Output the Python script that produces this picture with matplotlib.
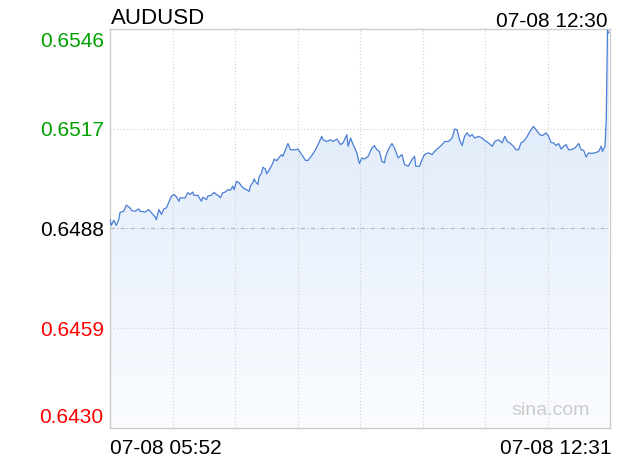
import numpy as np
import matplotlib.pyplot as plt
from matplotlib.colors import LinearSegmentedColormap

plt.rcParams['font.family'] = ['Liberation Sans', 'DejaVu Sans']

symbol = 'AUDUSD'
last_stamp = '07-08 12:30'
start_label = '07-08 05:52'
end_label = '07-08 12:31'
prev_close = 0.6488
y_ticks = [0.6430, 0.6459, 0.6488, 0.6517, 0.6546]
t_span = 399   # minuty od 05:52 do 12:31

# minuty od startu
minutes = [0, 1, 3, 5, 7, 8, 11, 13, 16, 17, 20, 23, 24, 28, 31, 33, 36, 37, 39, 41,
           43, 45, 49, 51, 53, 55, 56, 60, 62, 64, 66, 67, 70, 73, 74, 77, 78, 81, 83, 85,
           87, 88, 90, 92, 94, 96, 98, 99, 101, 103, 105, 107, 109, 111, 112, 114, 115, 116, 118, 119,
           121, 122, 124, 125, 128, 130, 131, 133, 135, 137, 138, 140, 142, 144, 148, 150, 153, 156, 158, 161,
           164, 166, 169, 170, 173, 176, 178, 181, 184, 186, 189, 190, 192, 194, 197, 199, 201, 203, 206, 209,
           211, 213, 215, 217, 219, 220, 222, 225, 227, 230, 233, 235, 238, 241, 243, 244, 247, 249, 251, 254,
           257, 259, 262, 265, 267, 270, 273, 275, 277, 279, 281, 283, 285, 287, 289, 291, 294, 297, 299, 302,
           305, 307, 310, 313, 315, 317, 319, 322, 324, 326, 328, 330, 333, 335, 338, 340, 343, 345, 348, 350,
           352, 354, 356, 358, 360, 362, 364, 366, 368, 371, 374, 376, 378, 380, 382, 384, 387, 390, 392, 393,
           395, 396, 397, 398]

prices = [0.64906, 0.64889, 0.64904, 0.64889, 0.64906, 0.64927, 0.64930, 0.64948, 0.64940, 0.64933,
          0.64930, 0.64937, 0.64930, 0.64928, 0.64935, 0.64926, 0.64914, 0.64906, 0.64935, 0.64921,
          0.64937, 0.64940, 0.64974, 0.64979, 0.64972, 0.64959, 0.64969, 0.64969, 0.64984, 0.64979,
          0.64986, 0.64976, 0.64977, 0.64959, 0.64971, 0.64964, 0.64974, 0.64977, 0.64985, 0.64979,
          0.64974, 0.64969, 0.64984, 0.64986, 0.64993, 0.64991, 0.65003, 0.64993, 0.65017, 0.65013,
          0.65003, 0.64996, 0.64993, 0.64988, 0.65003, 0.65014, 0.65024, 0.65017, 0.65008, 0.65030,
          0.65042, 0.65058, 0.65053, 0.65039, 0.65056, 0.65071, 0.65082, 0.65077, 0.65087, 0.65095,
          0.65090, 0.65109, 0.65127, 0.65109, 0.65109, 0.65111, 0.65095, 0.65078, 0.65078, 0.65092,
          0.65109, 0.65124, 0.65148, 0.65138, 0.65133, 0.65138, 0.65133, 0.65140, 0.65124, 0.65129,
          0.65153, 0.65119, 0.65143, 0.65124, 0.65100, 0.65069, 0.65085, 0.65082, 0.65090, 0.65114,
          0.65121, 0.65109, 0.65104, 0.65075, 0.65071, 0.65090, 0.65109, 0.65127, 0.65114, 0.65085,
          0.65095, 0.65066, 0.65061, 0.65080, 0.65090, 0.65061, 0.65061, 0.65080, 0.65095, 0.65100,
          0.65095, 0.65104, 0.65114, 0.65124, 0.65133, 0.65133, 0.65143, 0.65169, 0.65167, 0.65138,
          0.65121, 0.65148, 0.65158, 0.65148, 0.65153, 0.65143, 0.65148, 0.65143, 0.65136, 0.65129,
          0.65119, 0.65133, 0.65138, 0.65129, 0.65148, 0.65133, 0.65129, 0.65119, 0.65109, 0.65109,
          0.65129, 0.65133, 0.65148, 0.65162, 0.65177, 0.65167, 0.65153, 0.65150, 0.65158, 0.65148,
          0.65130, 0.65129, 0.65121, 0.65127, 0.65111, 0.65119, 0.65124, 0.65109, 0.65109, 0.65114,
          0.65127, 0.65109, 0.65107, 0.65088, 0.65100, 0.65098, 0.65100, 0.65104, 0.65119, 0.65104,
          0.65119, 0.65196, 0.65457, 0.65449]

y_lo, y_hi = y_ticks[0], y_ticks[-1]

fig = plt.figure(figsize=(6.2, 4.6), dpi=100)
ax = fig.add_axes([110 / 620, 1 - 429 / 460, 500 / 620, 399 / 460])

# wypelnienie gradientem pod linia
poly = ax.fill_between(minutes, prices, y_lo, facecolor='none', edgecolor='none')
cmap = LinearSegmentedColormap.from_list('fade', ['#fafcff', '#dbe7f9'])
grad = np.linspace(0, 1, 256).reshape(-1, 1)
im = ax.imshow(grad, cmap=cmap, extent=[0, t_span, y_lo, y_hi], origin='lower',
               aspect='auto', zorder=1)
im.set_clip_path(poly.get_paths()[0], ax.transData)

# siatka
for k in range(1, 8):
    ax.axvline(t_span * k / 8, color='#d0d0d0', lw=0.8, ls=(0, (1, 2)), zorder=2)
for v in (y_ticks[1], y_ticks[3]):
    ax.axhline(v, color='#d0d0d0', lw=0.8, ls=(0, (1, 2)), zorder=2)
ax.axhline(prev_close, color='#b4b4c4', lw=0.8, ls=(0, (4, 2, 1, 2)), zorder=2)

ax.plot(minutes, prices, color='#4a7ed6', lw=0.9, zorder=3)

ax.set_xlim(0, t_span)
ax.set_ylim(y_lo, y_hi)
ax.set_xticks([])
ax.set_yticks([])
for s in ax.spines.values():
    s.set_color('#cccccc')
    s.set_linewidth(1)

# etykiety osi Y
offsets = [4.3, -4.7, -4.7, -4.7, -12.0]
for v, off in zip(y_ticks, offsets):
    if v > prev_close:
        c = '#00a000'
    elif v < prev_close:
        c = '#ff0000'
    else:
        c = '#000000'
    ax.annotate(f'{v:.4f}', xy=(0, v), xycoords=('axes fraction', 'data'),
                xytext=(-4.5, off), textcoords='offset points',
                ha='right', va='baseline', fontsize=15, color=c)

fig.text(111 / 620, 1 - 23.5 / 460, symbol, fontsize=16, va='baseline')
fig.text(608 / 620, 1 - 26.7 / 460, last_stamp, fontsize=15, ha='right', va='baseline')
fig.text(110 / 620, 1 - 454 / 460, start_label, fontsize=15, va='baseline')
fig.text(611 / 620, 1 - 454 / 460, end_label, fontsize=15, ha='right', va='baseline')
ax.text(0.96, 0.035, 'sina.com', transform=ax.transAxes, ha='right', va='baseline',
        fontsize=14, color='#cccccc')

fig.savefig('out.png', dpi=100)
